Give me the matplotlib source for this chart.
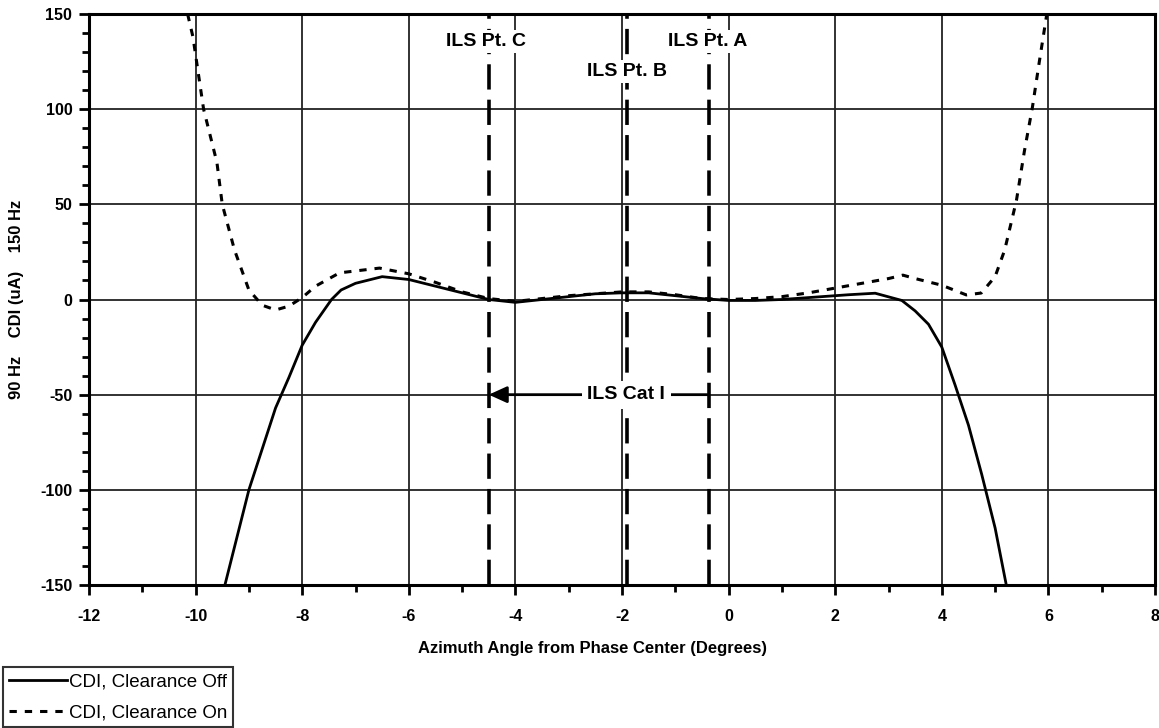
""" CDI vs azimuth, clearance on / off """

import matplotlib
matplotlib.use("Agg")
from matplotlib import pyplot as plt
from matplotlib.ticker import MultipleLocator

plt.rcParams['font.family'] = ['Liberation Sans', 'DejaVu Sans']
plt.rcParams['axes.unicode_minus'] = False

# CDI, Clearance Off
x_off = [-9.45, -9.0, -8.5, -8.25, -8.0, -7.75, -7.45, -7.27, -7.0, -6.5,
         -6.0, -5.5, -5.0, -4.5, -4.0, -3.5, -3.0, -2.5, -2.0, -1.5,
         -1.0, -0.5, 0.0, 0.5, 1.0, 1.5, 2.0, 2.25, 2.75, 3.25,
         3.5, 3.75, 4.0, 4.25, 4.5, 4.75, 5.0, 5.21]
y_off = [-150, -100, -57, -41, -24, -12, 0, 5, 8.5, 12,
         10.5, 7, 3.5, 0, -1.5, 0, 1.5, 3, 3.5, 3.5,
         2, 0.5, -0.5, -0.5, 0, 1, 2, 2.5, 3.3, -0.5,
         -6, -13, -25, -45, -66, -92, -120, -150]

# CDI, Clearance On
x_on = [-10.15, -10.05, -9.85, -9.6, -9.5, -9.27, -9.0, -8.75, -8.5, -8.25,
        -8.0, -7.75, -7.3, -7.0, -6.55, -6.0, -5.5, -5.0, -4.5, -4.0,
        -3.5, -3.0, -2.5, -2.0, -1.5, -1.0, -0.5, 0.0, 0.5, 1.0,
        1.5, 2.0, 2.5, 3.0, 3.27, 3.5, 4.0, 4.46, 4.74, 5.0,
        5.18, 5.4, 5.55, 5.7, 5.83, 5.97]
y_on = [150, 138, 100, 72, 50, 26, 5, -3, -5.5, -3.5,
        1, 7, 14, 15, 16.5, 13.5, 9, 4, 0.5, -1,
        0.5, 2, 3, 4, 4, 2.5, 0.5, 0, 0.5, 1.5,
        3.5, 6, 8.5, 11, 12.8, 11, 7.5, 2.4, 3.4, 12,
        26, 52, 78, 101, 125, 150]

# ILS reference points
ils_x = [-4.5, -1.9, -0.36]
ils_labels = ["ILS Pt. C", "ILS Pt. B", "ILS Pt. A"]
ils_label_x = [-4.56, -1.9, -0.4]
ils_label_y = [135.5, 119.7, 135.5]

fig = plt.figure(figsize=(11.59, 7.28), dpi=100)
ax = fig.add_axes([89 / 1159, 143 / 728, 1066 / 1159, 571 / 728])

ax.set_xlim(-12, 8)
ax.set_ylim(-150, 150)
ax.xaxis.set_major_locator(MultipleLocator(2))
ax.xaxis.set_minor_locator(MultipleLocator(1))
ax.yaxis.set_major_locator(MultipleLocator(50))
ax.yaxis.set_minor_locator(MultipleLocator(10))
ax.grid(True, which='major', color='#222222', linewidth=1.3, zorder=1)
ax.set_axisbelow(True)

for spine in ax.spines.values():
    spine.set_linewidth(2.2)
ax.tick_params(which='major', direction='out', length=7, width=2,
               labelsize=11.5)
ax.tick_params(axis='x', which='major', pad=10)
ax.tick_params(axis='y', which='major', pad=5)
ax.tick_params(which='minor', direction='out', length=5, width=2)
for lbl in ax.get_xticklabels() + ax.get_yticklabels():
    lbl.set_fontweight('bold')

line_off, = ax.plot(x_off, y_off, color='k', linewidth=2, zorder=4,
                    label="CDI, Clearance Off")
line_on, = ax.plot(x_on, y_on, color='k', linewidth=2.2, zorder=4,
                   dashes=(2.4, 2.6), label="CDI, Clearance On")

for xv in ils_x:
    ax.axvline(xv, color='k', linewidth=2.6, dashes=(7, 2.8), zorder=3)

for xv, yv, txt in zip(ils_label_x, ils_label_y, ils_labels):
    ax.text(xv, yv, txt, ha='center', va='center', fontsize=14,
            fontweight='bold', zorder=5,
            bbox=dict(facecolor='white', edgecolor='none', pad=2))

ax.annotate("", xy=(-4.5, -50), xytext=(-0.4, -50), zorder=5,
            arrowprops=dict(arrowstyle='-|>,head_length=1.1,head_width=0.5',
                            color='k', linewidth=2, shrinkA=0, shrinkB=0))
ax.text(-1.92, -50, "ILS Cat I", ha='center', va='center', fontsize=14,
        fontweight='bold', zorder=6,
        bbox=dict(facecolor='white', edgecolor='none', pad=4))

ax.set_xlabel("Azimuth Angle from Phase Center (Degrees)", fontsize=12,
              fontweight='bold')
ax.xaxis.set_label_coords((592 - 89) / 1066, -56 / 571)
ax.set_ylabel("90 Hz    CDI (uA)    150 Hz", fontsize=12,
              fontweight='bold')
ax.yaxis.set_label_coords(-65 / 1066, 0.5)

leg = fig.legend(handles=[line_off, line_on], loc='lower left',
                 bbox_to_anchor=(3 / 1159, 1 / 728), fontsize=13.5,
                 frameon=True, fancybox=False, handlelength=3.1,
                 handletextpad=0.1, borderpad=0.3, labelspacing=0.75,
                 borderaxespad=0)
leg.get_frame().set_edgecolor('k')
leg.get_frame().set_linewidth(1.5)

fig.savefig("out.png", dpi=100)
